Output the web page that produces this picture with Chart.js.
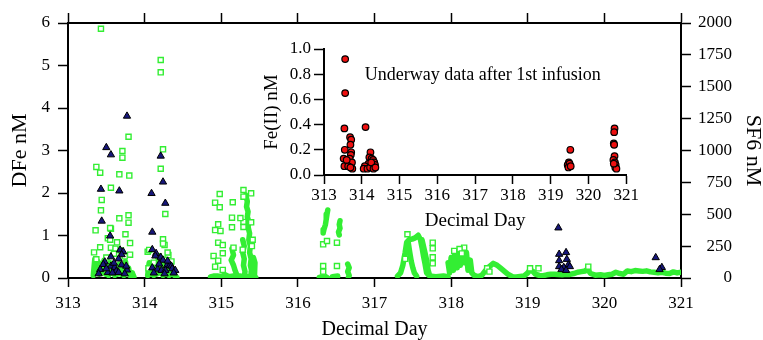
<!DOCTYPE html>
<html><head><meta charset="utf-8">
<script src="https://cdn.jsdelivr.net/npm/chart.js@4/dist/chart.umd.min.js"></script>
<style>
html,body{margin:0;padding:0;background:#fff}
#wrap{position:relative;width:763px;height:340px;overflow:hidden}
#main{position:absolute;left:0;top:0}
#inset{position:absolute;left:250px;top:35px}
</style>
</head><body>
<div id="wrap"><canvas id="main" width="763" height="340"></canvas><canvas id="inset" width="390" height="205"></canvas></div>
<script>
// ---------- data ----------
const dayMin = 313, dayMax = 321;
const dayTicks = [313,314,315,316,317,318,319,320,321];
const dfeTicks = [0,1,2,3,4,5,6];
const sf6Ticks = [0,250,500,750,1000,1250,1500,1750,2000];
const feTicks = [0.0,0.2,0.4,0.6,0.8,1.0];

// DFe (nM), triangles, left axis
const dfeDay = [313.77,313.50,313.56,313.43,313.67,313.44,313.55,313.56,313.68,313.72,313.70,313.66,313.48,313.46,313.56,313.61,313.70,313.77,313.63,313.52,313.58,313.66,313.42,313.40,313.74,313.50,313.60,313.76,
  314.21,314.24,314.09,314.27,314.10,314.10,314.15,314.14,314.21,314.24,314.29,314.33,314.35,314.36,314.10,314.17,314.22,314.27,314.40,314.30,314.19,314.12,314.26,314.38,
  319.40,319.41,319.50,319.41,319.51,319.53,319.47,319.41,319.55,319.44,319.50,320.67,320.75,320.72];
const dfeVal = [3.81,3.07,2.90,2.09,2.05,1.34,0.99,0.50,0.66,0.62,0.55,0.45,0.38,0.32,0.28,0.25,0.31,0.19,0.16,0.13,0.12,0.13,0.20,0.10,0.10,0.22,0.35,0.28,
  2.87,2.26,1.99,1.76,1.08,0.67,0.58,0.52,0.49,0.42,0.29,0.30,0.28,0.22,0.24,0.21,0.18,0.18,0.18,0.40,0.33,0.12,0.10,0.12,
  1.18,0.56,0.60,0.41,0.44,0.31,0.25,0.27,0.27,0.20,0.18,0.48,0.25,0.20];

// SF6 (nM), isolated open squares, right axis
const sf6Day = [313.43,313.79,313.71,313.71,313.37,313.42,313.67,313.80,313.56,313.44,313.43,313.79,313.67,313.79,313.36,313.56,313.75,313.52,313.55,313.81,313.42,313.56,313.34,313.81,313.37,313.62,313.69,313.60,313.74,313.50,313.55,313.64,
  314.21,314.21,314.24,314.21,314.27,314.24,314.26,314.04,314.31,314.18,314.22,314.05,314.30,314.12,314.35,314.06,314.24,
  314.98,314.92,314.98,315.15,315.29,315.39,315.29,315.14,314.96,314.92,314.99,315.14,315.39,315.29,315.29,314.96,315.02,314.90,314.96,315.02,315.16,315.28,314.92,315.02,315.41,315.40,315.25,
  316.33,316.38,316.51,316.33,316.33,316.51,
  317.43,317.76,317.76,317.76,317.76,317.40,
  318.17,318.11,318.04,318.14,318.47,318.50,
  319.03,319.14,319.79];
const sf6Val = [1955,1108,996,944,871,826,813,803,708,612,531,492,468,434,374,387,343,311,392,274,241,238,201,183,147,230,215,190,170,160,300,280,
  1710,1613,1009,857,502,303,259,206,180,170,150,76,200,120,130,220,270,
  659,591,555,594,690,664,638,473,421,376,369,398,437,440,400,277,258,173,136,194,238,222,89,63,300,250,470,
  264,290,277,94,50,94,
  343,277,233,162,115,150,
  238,227,212,193,76,50,
  76,76,89];

// SF6 (nM), continuous underway track; null marks a gap in the track
const sf6TrackDay = [
  313.33,313.35,313.37,313.39,313.41,313.43,313.45,313.47,313.49,313.51,313.53,313.55,313.57,313.59,313.61,313.63,313.65,313.67,313.69,313.71,313.73,313.75,313.77,313.79,313.81,313.84,313.86,null,
  314.04,314.06,314.08,314.10,314.12,314.14,314.16,314.18,314.20,314.22,314.24,314.26,314.28,314.30,314.32,314.34,314.36,314.38,314.40,314.42,null,
  314.86,314.90,314.95,315.00,315.05,315.10,315.20,315.30,315.40,315.45,null,
  315.14,315.16,315.13,315.16,315.18,315.20,315.19,null,
  315.28,315.30,315.28,315.30,315.29,315.31,315.30,null,
  315.32,315.34,315.33,315.35,315.34,315.36,315.35,315.37,315.36,315.38,315.37,315.39,315.38,315.40,315.39,null,
  315.42,315.44,315.43,315.44,315.43,null,
  316.39,316.38,316.37,316.36,316.34,316.33,null,
  316.55,316.54,316.55,316.53,316.54,null,
  316.65,316.67,316.65,316.67,316.66,null,
  316.28,316.35,316.38,null,316.45,316.52,null,
  317.30,317.34,317.37,317.40,317.42,317.45,317.49,317.53,317.57,317.60,317.62,317.64,317.66,317.68,317.72,317.80,317.90,317.96,null,
  317.44,317.46,317.48,317.50,317.52,317.55,null,
  317.62,317.65,317.68,317.70,317.72,null,
  317.96,317.98,318.00,318.03,318.05,318.08,318.10,318.12,318.15,318.17,318.20,318.22,318.25,318.27,318.30,318.35,318.40,318.45,318.50,318.55,318.60,318.65,318.70,318.74,
  318.80,318.85,318.90,318.95,319.00,319.03,319.07,319.10,319.15,319.20,319.25,319.30,319.35,319.40,319.45,319.50,319.55,319.60,319.65,319.70,319.75,319.78,319.82,319.88,319.95,
  320.00,320.05,320.10,320.15,320.20,320.25,320.30,320.35,320.40,320.45,320.50,320.55,320.60,320.65,320.70,320.75,320.80,320.85,320.90,320.95,321.00];
const sf6TrackVal = [
  20,150,60,130,30,110,40,140,30,90,20,120,40,100,20,80,30,110,30,90,20,130,40,80,20,40,10,null,
  20,120,30,100,20,90,30,130,40,110,20,90,30,120,20,80,30,60,10,5,null,
  8,15,15,10,25,10,20,10,15,5,null,
  230,180,140,100,60,30,10,null,
  300,250,200,150,100,50,10,null,
  650,600,560,520,480,440,400,350,300,250,200,150,100,50,10,null,
  160,120,80,40,10,null,
  533,500,460,420,380,353,null,
  449,420,390,360,337,null,
  110,80,50,20,5,null,
  5,15,5,null,10,15,null,
  15,40,100,200,280,300,305,315,335,300,240,170,110,40,15,10,15,10,null,
  280,200,130,80,40,15,null,
  300,220,140,60,20,null,
  120,40,160,60,200,80,220,100,230,120,200,60,140,40,20,10,20,60,90,115,100,75,50,30,
  10,8,12,15,40,65,50,30,20,18,25,30,30,28,25,30,28,35,45,50,55,70,35,22,25,
  20,25,30,45,35,30,55,50,58,55,52,56,48,45,40,45,38,35,48,40,45];

// Fe(II) (nM), inset circles
const feDay = [313.56,313.56,313.54,313.55,313.52,313.54,313.69,313.72,313.70,313.72,313.71,313.68,313.66,313.74,313.75,313.64,313.70,313.60,
  314.10,314.23,314.20,314.26,314.30,314.33,314.35,314.28,314.18,314.12,314.08,314.05,314.15,314.22,314.31,314.25,314.36,
  319.52,319.48,319.45,319.50,319.47,319.53,
  320.69,320.68,320.67,320.68,320.69,320.66,320.70,320.72,320.71,320.74,320.67];
const feVal = [0.92,0.65,0.37,0.20,0.13,0.07,0.30,0.28,0.24,0.18,0.16,0.13,0.10,0.10,0.05,0.07,0.06,0.12,
  0.38,0.18,0.14,0.13,0.12,0.10,0.08,0.07,0.09,0.06,0.07,0.05,0.05,0.06,0.05,0.10,0.06,
  0.20,0.10,0.08,0.09,0.06,0.07,
  0.37,0.34,0.25,0.24,0.15,0.12,0.10,0.08,0.06,0.05,0.09];

const insetNote = 'Underway data after 1st infusion';

// ---------- build ----------
const zip = (xs, ys) => xs.map((x, i) => ({x: x === null ? (xs[i-1] ?? dayMin) : x, y: ys[i]}));
const SERIF = "'Liberation Serif','Times New Roman',serif";
const GREEN = '#33ee33';
const BLACK = '#000';

function ticksFrom(list) {
  return function(scale) { scale.ticks = list.map(v => ({value: v})); };
}
function gridOut(len) {
  return {drawOnChartArea: false, drawTicks: true, tickLength: len, tickColor: BLACK, tickWidth: 1.5, color: BLACK};
}
const border = {display: true, color: BLACK, width: 2};
const tickFont = {family: SERIF, size: 17};
const plain = v => String(v);

new Chart(document.getElementById('main'), {
  type: 'scatter',
  data: {datasets: [
    {label: 'SF6 track', data: zip(sf6TrackDay, sf6TrackVal), xAxisID: 'x', yAxisID: 'y2', showLine: true, spanGaps: false,
     borderColor: GREEN, backgroundColor: GREEN, borderWidth: 5.5, borderJoinStyle: 'round', borderCapStyle: 'round',
     pointRadius: 0, tension: 0, order: 3},
    {label: 'SF6', data: zip(sf6Day, sf6Val), xAxisID: 'x', yAxisID: 'y2', pointStyle: 'rect', pointRadius: 3.6,
     borderColor: GREEN, backgroundColor: '#ffffff', borderWidth: 1.4, order: 2},
    {label: 'DFe', data: zip(dfeDay, dfeVal), xAxisID: 'x', yAxisID: 'y', pointStyle: 'triangle', pointRadius: 4.2,
     borderColor: BLACK, backgroundColor: '#16167a', borderWidth: 1, order: 1}
  ]},
  options: {
    responsive: false, animation: false, events: [],
    plugins: {legend: {display: false}, tooltip: {enabled: false}},
    layout: {padding: {left: 0, top: 0, bottom: 0, right: 31}},
    scales: {
      x: {type: 'linear', position: 'bottom', min: dayMin, max: dayMax,
        afterBuildTicks: ticksFrom(dayTicks),
        ticks: {color: BLACK, font: tickFont, padding: 6, maxRotation: 0, autoSkip: false, callback: plain},
        grid: gridOut(9), border,
        title: {display: true, text: 'Decimal Day', color: BLACK, font: {family: SERIF, size: 20, lineHeight: 1}, padding: {top: 0, bottom: 0}},
        afterFit(s) { s.height = 62; }},
      x2: {type: 'linear', position: 'top', min: dayMin, max: dayMax,
        afterBuildTicks: ticksFrom(dayTicks),
        ticks: {display: false}, grid: gridOut(10), border,
        afterFit(s) { s.height = 23; }},
      y: {type: 'linear', position: 'left', min: 0, max: 6,
        afterBuildTicks: ticksFrom(dfeTicks),
        ticks: {color: BLACK, font: tickFont, padding: 8, callback: plain},
        grid: gridOut(10), border,
        title: {display: true, text: 'DFe nM', color: BLACK, font: {family: SERIF, size: 22, lineHeight: 1}, padding: {top: 9, bottom: 0}},
        afterFit(s) { s.width = 68; }},
      y2: {type: 'linear', position: 'right', min: 0, max: 2000,
        afterBuildTicks: ticksFrom(sf6Ticks),
        ticks: {color: BLACK, font: tickFont, padding: 12, crossAlign: 'far', callback: plain},
        grid: gridOut(10), border,
        title: {display: true, text: 'SF6 nM', color: BLACK, font: {family: SERIF, size: 22, lineHeight: 1}, padding: {top: -32, bottom: 0}},
        afterFit(s) { s.width = 51; }}
    }
  }
});

const notePlugin = {
  id: 'note',
  afterDraw(chart) {
    const {ctx, scales} = chart;
    ctx.save();
    ctx.font = '18px ' + SERIF;
    ctx.fillStyle = BLACK;
    ctx.textAlign = 'left';
    ctx.textBaseline = 'middle';
    ctx.fillText(insetNote, scales.x.getPixelForValue(314.08), scales.y.getPixelForValue(0.795));
    ctx.restore();
  }
};

new Chart(document.getElementById('inset'), {
  type: 'scatter',
  data: {datasets: [
    {label: 'Fe(II)', data: zip(feDay, feVal), pointStyle: 'circle', pointRadius: 3.3,
     borderColor: BLACK, backgroundColor: '#ee1010', borderWidth: 1.2}
  ]},
  options: {
    responsive: false, animation: false, events: [],
    plugins: {legend: {display: false}, tooltip: {enabled: false}},
    layout: {padding: {top: 14, right: 10, left: 0, bottom: 0}},
    scales: {
      x: {type: 'linear', position: 'bottom', min: dayMin, max: dayMax,
        afterBuildTicks: ticksFrom(dayTicks),
        ticks: {color: BLACK, font: tickFont, padding: 1, maxRotation: 0, autoSkip: false, callback: plain},
        grid: gridOut(9), border,
        title: {display: true, text: 'Decimal Day', color: BLACK, font: {family: SERIF, size: 19, lineHeight: 1}, padding: {top: 0, bottom: 9}},
        afterFit(s) { s.height = 65; }},
      y: {type: 'linear', position: 'left', min: 0, max: 1,
        afterBuildTicks: ticksFrom(feTicks),
        ticks: {color: BLACK, font: tickFont, padding: 3, callback: v => Number(v).toFixed(1)},
        grid: gridOut(10), border,
        title: {display: true, text: 'Fe(II) nM', color: BLACK, font: {family: SERIF, size: 19, lineHeight: 1}, padding: {top: 13, bottom: 0}},
        afterFit(s) { s.width = 74; }}
    }
  },
  plugins: [notePlugin]
});
</script>
</body></html>
